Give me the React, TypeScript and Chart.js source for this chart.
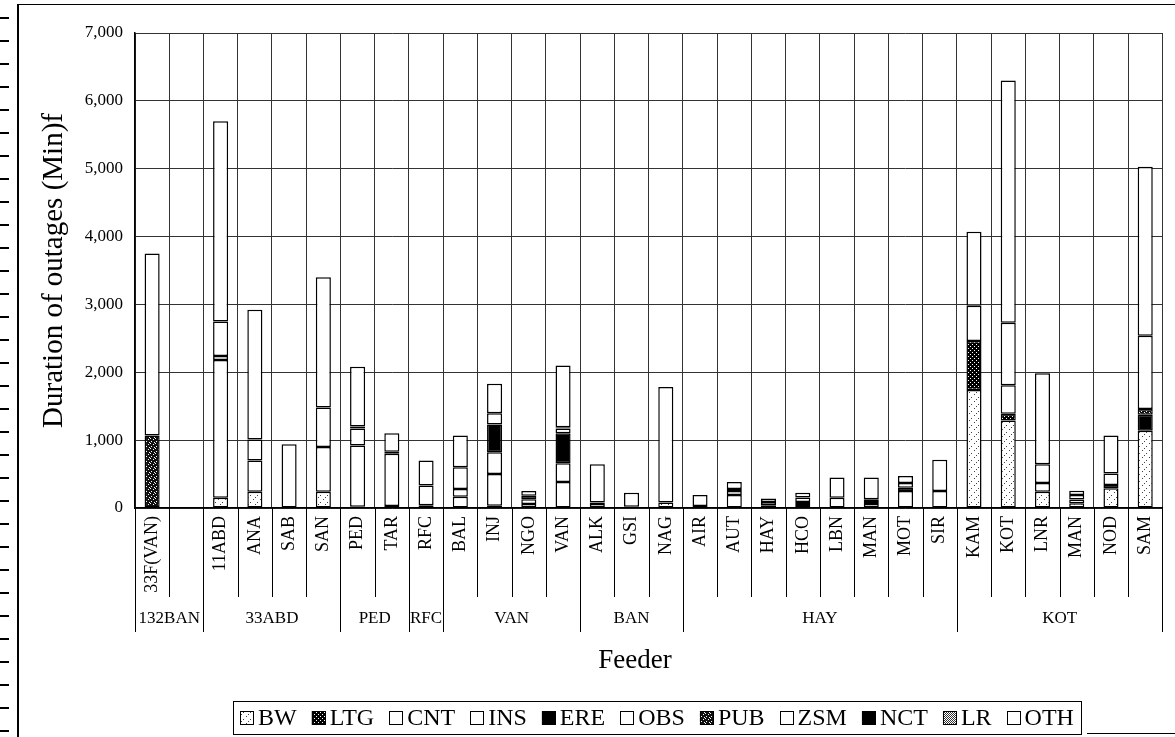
import React, { useEffect, useRef } from "react";
import { Chart, registerables } from "chart.js";

Chart.register(...registerables);

// ---- data ----
const feeders = ["33F(VAN)", "", "11ABD", "ANA", "SAB", "SAN", "PED", "TAR", "RFC", "BAL", "INJ", "NGO", "VAN", "ALK", "GSI", "NAG", "AIR", "AUT", "HAY", "HCO", "LBN", "MAN", "MOT", "SIR", "KAM", "KOT", "LNR", "MAN", "NOD", "SAM"];
const groupNames = ["132BAN", "33ABD", "PED", "RFC", "VAN", "BAN", "HAY", "KOT"];
const groupSizes = [2, 4, 2, 1, 4, 3, 8, 6];
const seriesNames = ["BW", "LTG", "CNT", "INS", "ERE", "OBS", "PUB", "ZSM", "NCT", "LR", "OTH"];

const BW = [0, 0, 150, 240, 0, 240, 20, 30, 40, 0, 35, 60, 0, 60, 20, 80, 30, 0, 40, 45, 0, 60, 0, 0, 1740, 1290, 240, 70, 290, 1140];
const LTG = [0, 0, 0, 0, 0, 0, 0, 0, 0, 0, 0, 0, 0, 0, 0, 0, 0, 0, 0, 0, 0, 0, 0, 0, 720, 100, 0, 0, 0, 0];
const CNT = [0, 0, 2030, 460, 0, 660, 900, 770, 290, 165, 465, 70, 385, 0, 0, 0, 0, 190, 50, 45, 150, 30, 250, 250, 520, 420, 130, 57, 0, 0];
const INS = [0, 0, 60, 0, 0, 580, 0, 30, 0, 115, 320, 0, 275, 0, 0, 0, 0, 60, 0, 65, 0, 40, 0, 0, 0, 920, 275, 63, 0, 0];
const ERE = [0, 0, 0, 0, 0, 0, 0, 0, 0, 0, 410, 50, 440, 0, 0, 0, 0, 0, 0, 0, 0, 0, 50, 0, 0, 0, 0, 0, 50, 235];
const OBS = [0, 0, 510, 310, 0, 0, 250, 0, 0, 320, 165, 0, 70, 0, 0, 0, 0, 0, 0, 0, 0, 0, 70, 0, 0, 0, 0, 0, 170, 0];
const PUB = [1070, 0, 0, 0, 0, 0, 0, 0, 0, 0, 0, 0, 0, 0, 0, 0, 0, 0, 0, 0, 0, 0, 0, 0, 0, 0, 0, 0, 0, 85];
const ZSM = [0, 0, 0, 0, 0, 0, 0, 0, 0, 0, 0, 0, 0, 0, 0, 0, 0, 0, 0, 0, 0, 0, 0, 0, 0, 0, 0, 0, 0, 1080];
const NCT = [0, 0, 0, 0, 0, 0, 30, 0, 0, 0, 0, 0, 20, 0, 0, 0, 0, 30, 0, 0, 0, 0, 0, 0, 0, 0, 0, 0, 0, 0];
const LR = [0, 0, 0, 0, 0, 0, 0, 0, 0, 0, 0, 0, 0, 20, 0, 0, 0, 0, 0, 0, 0, 0, 0, 0, 0, 0, 0, 0, 0, 0];
const OTH = [2680, 0, 2950, 1910, 940, 1920, 880, 270, 370, 470, 435, 70, 910, 565, 205, 1705, 160, 105, 50, 70, 300, 320, 100, 460, 1090, 3570, 1340, 63, 560, 2490];

const seriesValues = [BW, LTG, CNT, INS, ERE, OBS, PUB, ZSM, NCT, LR, OTH];

const Y_MAX = 7000;
const Y_STEP = 1000;

const SERIF = '"Liberation Serif", "Times New Roman", serif';

function makeTile(
  ctx: CanvasRenderingContext2D,
  size: number,
  bg: string,
  fg: string,
  pts: number[][]
): CanvasPattern | string {
  const c = document.createElement("canvas");
  c.width = size;
  c.height = size;
  const t = c.getContext("2d");
  if (!t) return bg;
  t.fillStyle = bg;
  t.fillRect(0, 0, size, size);
  t.fillStyle = fg;
  pts.forEach(([x, y]) => t.fillRect(x, y, 1, 1));
  return ctx.createPattern(c, "repeat") || bg;
}

const groupAxisPlugin = {
  id: "groupAxis",
  afterDraw(chart: any) {
    const xs = chart.scales.x;
    const { bottom } = chart.chartArea;
    const c: CanvasRenderingContext2D = chart.ctx;
    const n = feeders.length;
    const half = (xs.getPixelForValue(1) - xs.getPixelForValue(0)) / 2;
    const edge = (i: number) =>
      i < n ? xs.getPixelForValue(i) - half : xs.getPixelForValue(n - 1) + half;
    c.save();
    c.strokeStyle = "#000";
    c.lineWidth = 1;
    c.beginPath();
    for (let i = 0; i <= n; i++) {
      const px = Math.round(edge(i)) + 0.5;
      c.moveTo(px, bottom);
      c.lineTo(px, bottom + 89);
    }
    let s = 0;
    c.font = `17px ${SERIF}`;
    c.fillStyle = "#000";
    c.textAlign = "center";
    c.textBaseline = "middle";
    groupNames.forEach((g, k) => {
      const l = edge(s);
      const r = edge(s + groupSizes[k]);
      const pl = Math.round(l) + 0.5;
      const pr = Math.round(r) + 0.5;
      c.moveTo(pl, bottom);
      c.lineTo(pl, bottom + 124);
      c.moveTo(pr, bottom);
      c.lineTo(pr, bottom + 124);
      c.fillText(g, (l + r) / 2, bottom + 111);
      s += groupSizes[k];
    });
    c.stroke();
    c.font = `27px ${SERIF}`;
    c.fillText("Feeder", 635, 661);
    c.restore();
  },
};

const boxLegendPlugin = {
  id: "boxLegend",
  afterDraw(chart: any) {
    const c: CanvasRenderingContext2D = chart.ctx;
    const ds = chart.data.datasets;
    c.save();
    c.font = `24px ${SERIF}`;
    c.textBaseline = "middle";
    c.textAlign = "left";
    const box = 14;
    const gap = 4;
    const space = 15;
    const widths = ds.map((d: any) => box + gap + c.measureText(d.label).width);
    const total = widths.reduce((a: number, b: number) => a + b, 0) + space * (ds.length - 1);
    let x = 657 - total / 2;
    const cy = 718;
    c.strokeStyle = "#000";
    c.lineWidth = 1;
    c.strokeRect(Math.round(x - 7) + 0.5, 701.5, Math.round(total + 14), 33);
    ds.forEach((d: any, i: number) => {
      c.fillStyle = d.backgroundColor;
      c.fillRect(x, cy - box / 2, box, box);
      c.strokeRect(Math.round(x) + 0.5, Math.round(cy - box / 2) + 0.5, box - 1, box - 1);
      c.fillStyle = "#000";
      c.fillText(d.label, x + box + gap, cy + 1);
      x += widths[i] + space;
    });
    c.restore();
  },
};

export default function App() {
  const ref = useRef<HTMLCanvasElement>(null);

  useEffect(() => {
    const canvas = ref.current;
    if (!canvas) return;
    const ctx = canvas.getContext("2d");
    if (!ctx) return;

    const fills: (CanvasPattern | string)[] = [
      makeTile(ctx, 7, "#ffffff", "#444444", [[1, 2], [5, 5], [3, 0]]), // BW
      makeTile(ctx, 4, "#000000", "#ffffff", [[0, 0], [2, 2]]), // LTG
      "#ffffff", // CNT
      "#ffffff", // INS
      "#000000", // ERE
      "#ffffff", // OBS
      makeTile(ctx, 5, "#111111", "#ffffff", [[1, 1], [3, 4], [4, 2], [0, 3]]), // PUB
      "#ffffff", // ZSM
      "#000000", // NCT
      makeTile(ctx, 2, "#ffffff", "#333333", [[0, 0], [1, 1]]), // LR
      "#ffffff", // OTH
    ];

    const datasets = seriesNames.map((name, i) => ({
      label: name,
      data: seriesValues[i],
      backgroundColor: fills[i],
      borderColor: "#000000",
      borderWidth: 1.5,
      borderSkipped: false,
      inflateAmount: 0,
      barPercentage: 0.44,
      categoryPercentage: 1,
      stack: "s",
    }));

    const chart = new Chart(canvas, {
      type: "bar",
      data: { labels: feeders, datasets: datasets as any },
      options: {
        animation: false,
        responsive: false,
        devicePixelRatio: 1,
        layout: { autoPadding: false, padding: { left: 0, top: 33, right: 11, bottom: 129 } } as any,
        plugins: {
          legend: { display: false },
          tooltip: { enabled: false },
        },
        scales: {
          x: {
            stacked: true,
            offset: true,
            afterFit: (scale: any) => {
              scale.height = 100;
            },
            grid: {
              offset: true,
              color: "#333333",
              lineWidth: 1,
              drawTicks: false,
            },
            border: { display: true, color: "#000000", width: 1.5 },
            ticks: {
              autoSkip: false,
              maxRotation: 90,
              minRotation: 90,
              padding: 8,
              color: "#000000",
              font: { family: SERIF, size: 18 },
            },
          },
          y: {
            stacked: true,
            min: 0,
            max: Y_MAX,
            afterFit: (scale: any) => {
              scale.width = 135;
            },
            grid: { color: "#333333", lineWidth: 1, drawTicks: false },
            border: { display: true, color: "#000000", width: 1.5 },
            ticks: {
              stepSize: Y_STEP,
              padding: 12,
              color: "#000000",
              font: { family: SERIF, size: 17 },
              callback: (v: any) => Number(v).toLocaleString("en-US"),
            },
            title: {
              display: true,
              text: "Duration of outages (Min)f",
              color: "#000000",
              font: { family: SERIF, size: 29 },
              padding: { top: 37, bottom: 0 },
            },
          },
        },
      },
      plugins: [groupAxisPlugin, boxLegendPlugin],
    });

    return () => chart.destroy();
  }, []);

  return (
    <div
      style={{
        position: "fixed",
        left: 0,
        top: 0,
        width: 1175,
        height: 737,
        background: "#ffffff",
        overflow: "hidden",
      }}
    >
      <canvas ref={ref} width={1175} height={737} style={{ position: "absolute", left: 0, top: 0 }} />
      <div style={{ position: "absolute", left: 17, top: 4, width: 1158, height: 1, background: "#000" }} />
      <div style={{ position: "absolute", left: 17, top: 4, width: 2, height: 733, background: "#000" }} />
      <div
        style={{
          position: "absolute",
          left: 0,
          top: 0,
          width: 9,
          height: 737,
          background:
            "repeating-linear-gradient(to bottom, transparent 0px, transparent 17px, #000 17px, #000 19px, transparent 19px, transparent 23px)",
        }}
      />
      <div style={{ position: "absolute", left: 1087, top: 733, width: 88, height: 1, background: "#000" }} />
    </div>
  );
}
